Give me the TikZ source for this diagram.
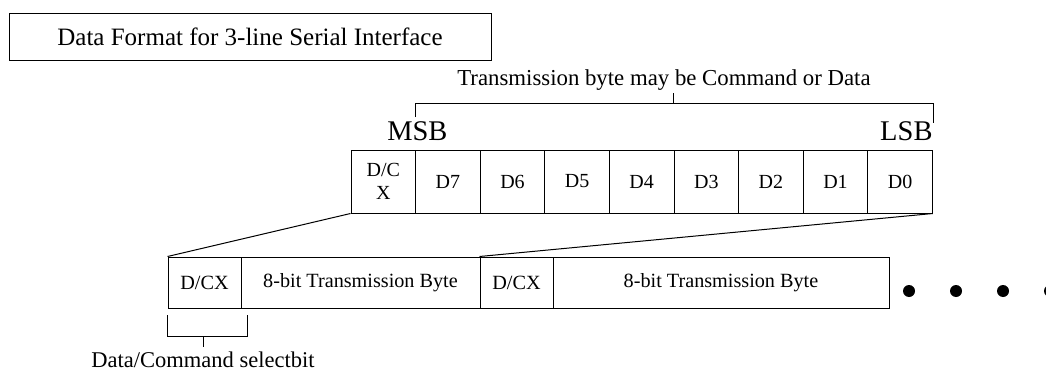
\documentclass[tikz,border=0pt]{standalone}
\usepackage{fontspec}
\setmainfont{Liberation Serif}
\usetikzlibrary{positioning}

\tikzset{
	bitcell/.style = {draw = black, shape = rectangle,
					  minimum width = 64.6pt, minimum height = 63pt,
					  inner sep = 0pt, font = \fontsize{20}{23}\selectfont},
	framecell/.style = {draw = black, shape = rectangle,
					  minimum height = 51pt,
					  inner sep = 0pt, font = \fontsize{20.2}{24}\selectfont},
	dot/.style = {fill = black, shape = circle, minimum size = 12pt, inner sep = 0pt}
}

\begin{document}
\begin{tikzpicture}[x = 1pt, y = -1pt, line width = 1pt]
	\useasboundingbox (0, 0) rectangle (1046, 372);

	% title
	\draw (250, 36.5) node[draw = black,
					  shape = rectangle,
					  minimum width = 482pt,
					  minimum height = 47pt,
					  font = \fontsize{25}{28}\selectfont
			   ](title){Data Format for 3-line Serial Interface};

	% one transmission byte, bit by bit
	\draw (383.3, 181.5) node[bitcell, align = center](bdcx){D/C\\X};
	\draw (447.9, 181.5) node[bitcell](b7){D7};
	\draw (512.5, 181.5) node[bitcell](b6){D6};
	\draw (577.1, 181.5) node[bitcell](b5){D5};
	\draw (641.7, 181.5) node[bitcell](b4){D4};
	\draw (706.3, 181.5) node[bitcell](b3){D3};
	\draw (770.9, 181.5) node[bitcell](b2){D2};
	\draw (835.5, 181.5) node[bitcell](b1){D1};
	\draw (900.1, 181.5) node[bitcell](b0){D0};

	\draw (448, 140) node[anchor = base east,
					  inner sep = 0pt,
					  font = \fontsize{28.5}{30}\selectfont
			   ](msb){MSB};
	\draw (933, 140) node[anchor = base east,
					  inner sep = 0pt,
					  font = \fontsize{28.5}{30}\selectfont
			   ](lsb){LSB};

	% bracket over the byte
	\coordinate (brl) at (415, 117);
	\coordinate (brr) at (933, 123);
	\coordinate (brm) at (673, 103);
	\draw (brl) |- (brr |- brm) -- (brr);
	\draw (brm) -- ++(0, -10);
	\draw (664, 85) node[anchor = base,
					  inner sep = 0pt,
					  font = \fontsize{22.8}{26}\selectfont
			   ](bytetext){Transmission byte may be Command or Data};

	% serial stream
	\draw (204.5, 282.5) node[framecell, minimum width = 73pt](dcx1){D/CX};
	\draw (360.5, 282.5) node[framecell, minimum width = 239pt](byte1){8-bit Transmission Byte};
	\draw (516.5, 282.5) node[framecell, minimum width = 73pt](dcx2){D/CX};
	\draw (721, 282.5) node[framecell, minimum width = 336pt](byte2){8-bit Transmission Byte};

	\draw (dcx1.north west) -- (bdcx.south west);
	\draw (dcx2.north west) -- (b0.south east);

	\draw (909, 291) node[dot](p1){};
	\draw (956, 291) node[dot](p2){};
	\draw (1003, 291) node[dot](p3){};
	\draw (1050, 291) node[dot](p4){};

	% bracket under the select bit
	\coordinate (sbl) at (167, 315);
	\coordinate (sbr) at (247, 315);
	\coordinate (sbm) at (203, 336);
	\draw (sbl) |- (sbr |- sbm) -- (sbr);
	\draw (sbm) -- ++(0, 11) coordinate (sbt);
	\draw (203, 367) node[anchor = base,
					  inner sep = 0pt,
					  font = \fontsize{22.5}{26}\selectfont
			   ](seltext){Data/Command selectbit};
\end{tikzpicture}
\end{document}
